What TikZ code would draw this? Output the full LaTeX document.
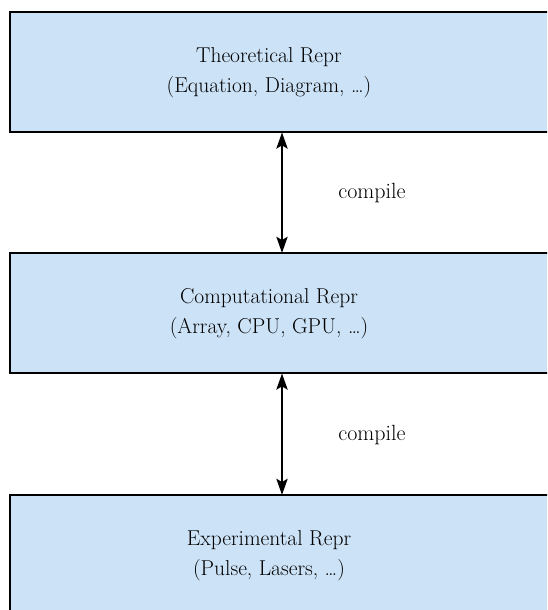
\documentclass[tikz,border=0pt]{standalone}
\usepackage{fontspec}
\usetikzlibrary{arrows.meta}
\definecolor{boxfill}{RGB}{204,226,246}
\begin{document}
\begin{tikzpicture}[x=1pt,y=-1pt,
  reprbox/.style={draw=black,line width=2.4pt,fill=boxfill,minimum width=551pt,minimum height=120pt,inner sep=0pt,anchor=north west},
  reprtext/.style={align=center,text=black,font=\fontsize{21.5}{30}\selectfont},
  lbl/.style={text=black,font=\fontsize{22}{24}\selectfont},
  biarrow/.style={{Stealth[length=16pt,width=11pt,inset=3pt]}-{Stealth[length=16pt,width=11pt,inset=3pt]},line width=2.8pt,shorten <=-1pt,shorten >=-1pt}]
\useasboundingbox (0,0) rectangle (547,610);
\clip (0,0) rectangle (547,610);
\node[reprbox] (top) at (9,11) {};
\node[reprbox] (mid) at (9,252) {};
\node[reprbox,minimum height=150pt] (bot) at (9,494) {};
\node[reprtext] (ttop) at (269,73) {Theoretical Repr\\(Equation, Diagram, \dots)};
\node[reprtext] (tmid) at (269,314) {Computational Repr\\(Array, CPU, GPU, \dots)};
\node[reprtext] (tbot) at (269,556) {Experimental Repr\\(Pulse, Lasers, \dots)};
\coordinate (ax) at (282,0);
\draw[biarrow] (ax |- top.south) -- (ax |- mid.north);
\draw[biarrow] (ax |- mid.south) -- (ax |- bot.north);
\node[lbl] (l1) at (372,193) {compile};
\node[lbl] (l2) at (372,435) {compile};
\end{tikzpicture}
\end{document}
